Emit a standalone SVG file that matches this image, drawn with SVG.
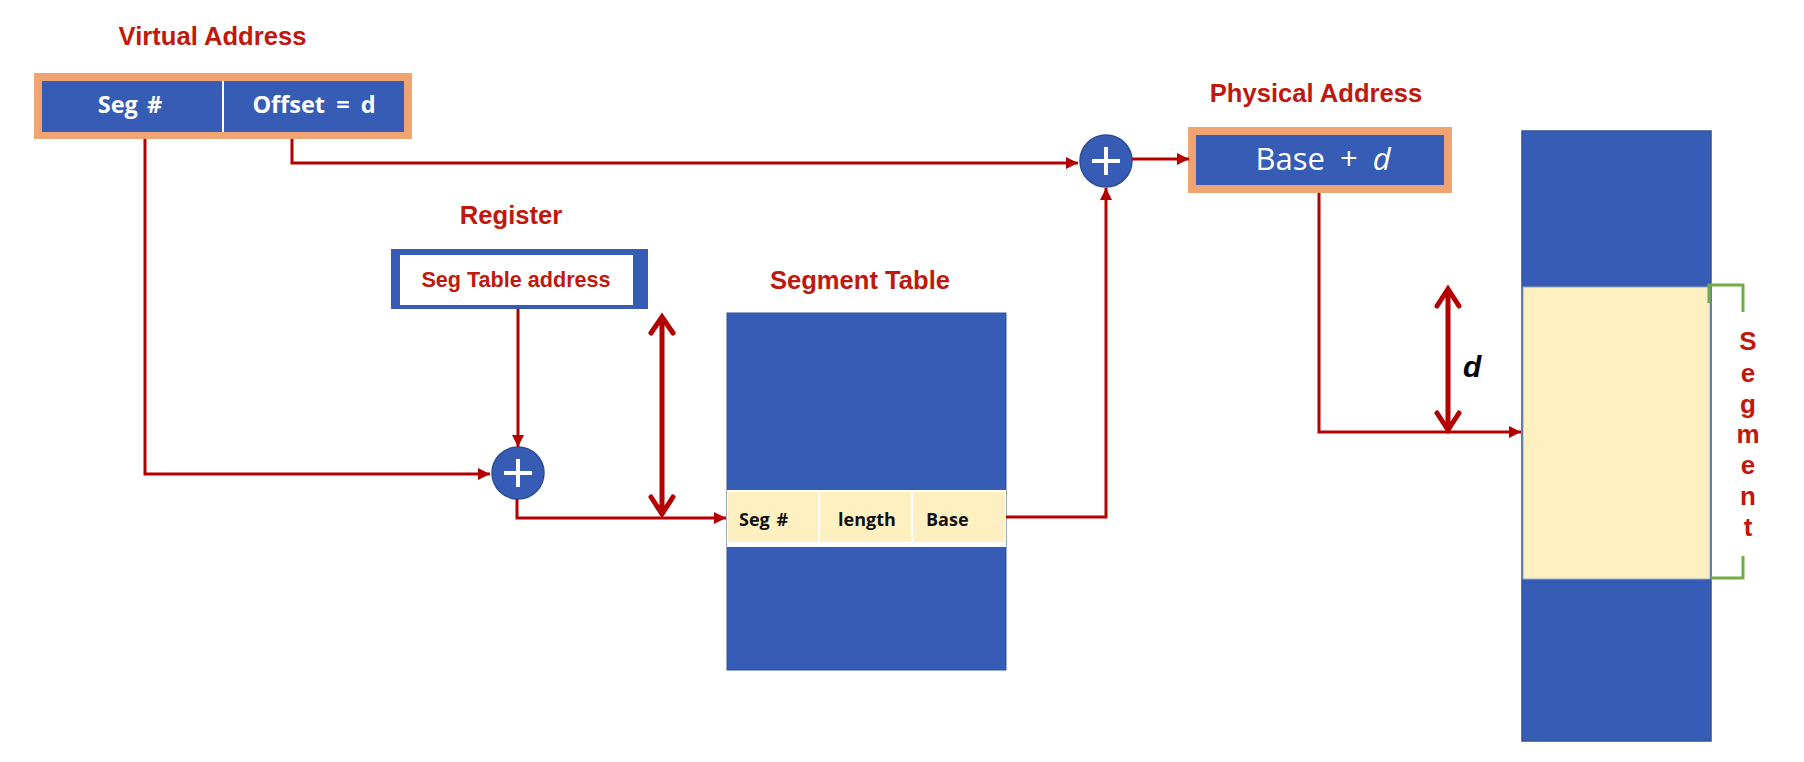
<svg xmlns="http://www.w3.org/2000/svg" width="1804" height="762" viewBox="0 0 1804 762">
<defs>
<style>
.title{font-family:"Liberation Sans",Arial,sans-serif;font-weight:bold;font-size:25.6px;fill:#C0180C;text-anchor:middle}
.boxlbl{font-family:"Open Sans","Noto Sans",sans-serif;font-weight:bold;font-size:23.5px;fill:#FFFFFF;text-anchor:middle}
.rowlbl{font-family:"Open Sans","Noto Sans",sans-serif;font-weight:bold;font-size:18px;fill:#111111}
.conn{fill:none;stroke:#B40000;stroke-width:3}
.dbl{fill:none;stroke:#B40000;stroke-width:5;stroke-linecap:round}
.blue{fill:#365CB5}
.orange{fill:#F0A472}
.yellow{fill:#FFF0C2}
.seg{font-family:"Liberation Sans",Arial,sans-serif;font-weight:bold;font-size:26px;fill:#C0180C;text-anchor:middle}
</style>
<marker id="ah" markerUnits="userSpaceOnUse" markerWidth="13" markerHeight="12" refX="12" refY="6" orient="auto" viewBox="0 0 13 12">
<path d="M0,0 L12,6 L0,12 z" fill="#B40000"/>
</marker>
</defs>
<rect width="1804" height="762" fill="#FFFFFF"/>

<g id="virtual-address">
<text class="title" x="212.5" y="45">Virtual Address</text>
<rect class="orange" x="34" y="73" width="378" height="66"/>
<rect class="blue" x="42" y="81" width="362" height="51"/>
<line x1="223" y1="81" x2="223" y2="132" stroke="#FFFFFF" stroke-width="2"/>
<text class="boxlbl" x="130" y="113" style="word-spacing:3px">Seg #</text>
<text class="boxlbl" x="314" y="113" style="word-spacing:5px">Offset = d</text>
</g>

<g id="register">
<text class="title" x="511" y="224">Register</text>
<rect class="blue" x="391" y="249" width="257" height="60"/>
<rect x="400" y="255" width="233" height="50" fill="#FFFFFF"/>
<text class="title" x="516" y="287" style="font-size:21.6px">Seg Table address</text>
</g>

<g id="adder1">
<circle cx="518" cy="473" r="26" fill="#365CB5" stroke="#2D4E96" stroke-width="1.5"/>
<path d="M504,473 H532 M518,459 V487" stroke="#FFFFFF" stroke-width="4"/>
</g>

<g id="segment-table">
<text class="title" x="860" y="289">Segment Table</text>
<rect class="blue" x="727" y="313" width="279" height="357" stroke="#2F5597" stroke-width="1"/>
<rect x="727" y="490" width="279" height="57" fill="#FFFFFF"/>
<rect class="yellow" x="728" y="492" width="90" height="50"/>
<rect class="yellow" x="820" y="492" width="91" height="50"/>
<rect class="yellow" x="913" y="492" width="92" height="50"/>
<text class="rowlbl" x="739" y="526" style="word-spacing:2px">Seg #</text>
<text class="rowlbl" x="838" y="526">length</text>
<text class="rowlbl" x="926" y="526">Base</text>
</g>

<g id="adder2">
<circle cx="1106" cy="161" r="26" fill="#365CB5" stroke="#2D4E96" stroke-width="1.5"/>
<path d="M1092,161 H1120 M1106,147 V175" stroke="#FFFFFF" stroke-width="4"/>
</g>

<g id="physical-address">
<text class="title" x="1316" y="102">Physical Address</text>
<rect class="orange" x="1188" y="127" width="264" height="66"/>
<rect class="blue" x="1196" y="135" width="248" height="50"/>
<text x="1323" y="170" style="font-family:'Open Sans','Noto Sans',sans-serif;font-size:31px;fill:#FFFFFF;text-anchor:middle;word-spacing:7px">Base + <tspan font-style="italic">d</tspan></text>
</g>

<g id="memory">
<rect class="blue" x="1522" y="131" width="189" height="610" stroke="#2F5597" stroke-width="1.5"/>
<rect class="yellow" x="1523" y="287" width="187" height="292" stroke="#9AA6C8" stroke-width="1"/>
</g>

<g id="segment-label">
<path d="M1709,303 V285 H1743 V312 M1743,556 V578 H1711" fill="none" stroke="#70AD47" stroke-width="3"/>
<text class="seg" x="1748" y="350">S</text>
<text class="seg" x="1748" y="382">e</text>
<text class="seg" x="1748" y="413">g</text>
<text class="seg" x="1748" y="443">m</text>
<text class="seg" x="1748" y="474">e</text>
<text class="seg" x="1748" y="505">n</text>
<text class="seg" x="1748" y="536">t</text>
</g>

<g id="offset-d-label">
<text x="1463" y="377" style="font-family:'Liberation Sans',Arial,sans-serif;font-weight:bold;font-style:italic;font-size:30px;fill:#000000">d</text>
</g>

<g id="connectors">
<path class="conn" d="M145,139 V474 H490" marker-end="url(#ah)"/>
<path class="conn" d="M292,139 V163 H1078" marker-end="url(#ah)"/>
<path class="conn" d="M518,309 V447" marker-end="url(#ah)"/>
<path class="conn" d="M517,499 V518 H726" marker-end="url(#ah)"/>
<path class="conn" d="M1006,517 H1106 V188" marker-end="url(#ah)"/>
<path class="conn" d="M1132,159 H1189" marker-end="url(#ah)"/>
<path class="conn" d="M1319,193 V432 H1521" marker-end="url(#ah)"/>
<path class="dbl" d="M662,318 V512 M651,333 L662,317 L673,333 M651,497 L662,514 L673,497"/>
<path class="dbl" d="M1448,290 V429 M1437,306 L1448,289 L1459,306 M1437,413 L1448,430 L1459,413"/>
</g>
</svg>
